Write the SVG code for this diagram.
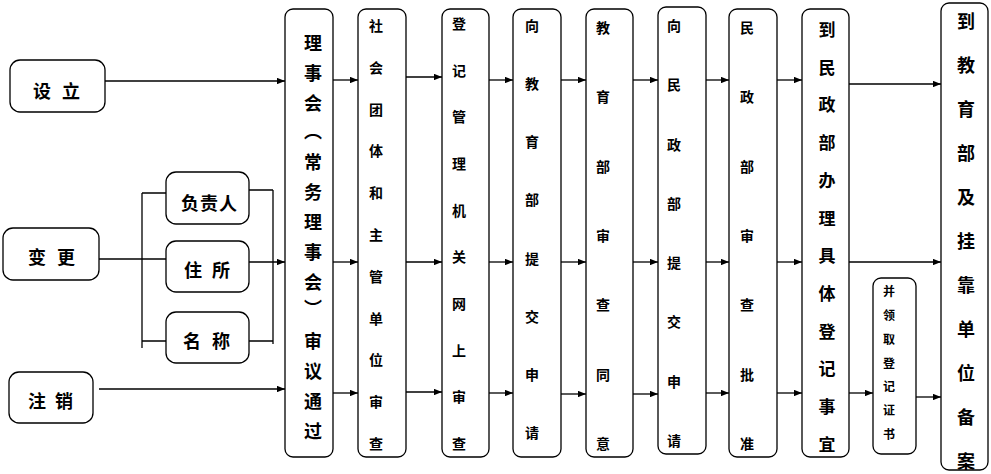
<svg xmlns="http://www.w3.org/2000/svg" width="991" height="474" viewBox="0 0 991 474">
<defs>
<marker id="ah" viewBox="0 0 10 8" refX="10" refY="4" markerWidth="8" markerHeight="6.4" markerUnits="userSpaceOnUse" orient="auto">
<path d="M0,0 L10,4 L0,8 Z" fill="#000"/>
</marker>
<style>
.box{fill:#fff;stroke:#000;stroke-width:1.3}
.ln{fill:none;stroke:#000;stroke-width:1.3}
.ar{fill:none;stroke:#000;stroke-width:1.3;marker-end:url(#ah)}
text{font-family:"Noto Sans CJK SC","Noto Sans CJK TC",sans-serif;font-weight:700;fill:#000;dominant-baseline:central}
.l{font-size:18px}
.b{font-size:18px;text-anchor:middle}
.s{font-size:14px;text-anchor:middle}
.t{font-size:12px;text-anchor:middle}
.v{font-size:18px;text-anchor:middle;writing-mode:vertical-rl}
</style>
</defs>
<rect width="991" height="474" fill="#fff"/>

<g id="connectors">
<path class="ar" d="M105,81 H285"/>
<path class="ln" d="M99,259 H166"/>
<path class="ln" d="M142,193 V348 M142,193 H166 M142,341 H166"/>
<path class="ln" d="M273,190 V344 M249,190 H273 M249,341 H273"/>
<path class="ar" d="M249,262 H285"/>
<path class="ar" d="M99,389 H285"/>
<path class="ar" d="M333,80 H358"/>
<path class="ar" d="M333,262 H358"/>
<path class="ar" d="M333,393 H358"/>
<path class="ar" d="M406,77 H442"/>
<path class="ar" d="M406,262 H442"/>
<path class="ar" d="M406,392 H442"/>
<path class="ar" d="M489,80 H513"/>
<path class="ar" d="M489,262 H513"/>
<path class="ar" d="M489,393 H513"/>
<path class="ar" d="M561,80 H586"/>
<path class="ar" d="M561,262 H586"/>
<path class="ar" d="M561,394 H586"/>
<path class="ar" d="M633,80 H658"/>
<path class="ar" d="M633,262 H658"/>
<path class="ar" d="M633,394 H658"/>
<path class="ar" d="M706,80 H729"/>
<path class="ar" d="M706,262 H729"/>
<path class="ar" d="M706,393 H729"/>
<path class="ar" d="M777,80 H802"/>
<path class="ar" d="M777,262 H802"/>
<path class="ar" d="M777,393 H802"/>
<path class="ar" d="M849,84 H941"/>
<path class="ar" d="M849,262 H941"/>
<path class="ar" d="M849,393 H873"/>
<path class="ar" d="M916,397 H941"/>
</g>

<g id="n-sheli">
<rect class="box" x="10" y="60" width="95" height="52" rx="10"/>
<text class="l" x="33 51 62" y="90">设 立</text>
</g>
<g id="n-biangeng">
<rect class="box" x="3" y="228" width="96" height="52" rx="10"/>
<text class="l" x="28 46 57" y="256">变 更</text>
</g>
<g id="n-zhuxiao">
<rect class="box" x="9" y="372" width="84" height="51" rx="10"/>
<text class="l" x="28 46 55" y="400">注 销</text>
</g>
<g id="n-fuzeren">
<rect class="box" x="166" y="172" width="83" height="52" rx="10"/>
<text class="l" x="181 200 219" y="202">负责人</text>
</g>
<g id="n-zhusuo">
<rect class="box" x="166" y="241" width="83" height="51" rx="10"/>
<text class="l" x="184 202 212" y="269">住 所</text>
</g>
<g id="n-mingcheng">
<rect class="box" x="166" y="312" width="83" height="51" rx="10"/>
<text class="l" x="183 201 212" y="340">名 称</text>
</g>

<g id="n-c1">
<rect class="box" x="285" y="9" width="48" height="448" rx="8"/>
<text class="b"><tspan x="313" y="42">理</tspan><tspan x="313" y="72">事</tspan><tspan x="313" y="102">会</tspan></text>
<text class="v" x="313" y="131">（</text>
<text class="b"><tspan x="313" y="161">常</tspan><tspan x="313" y="191">务</tspan><tspan x="313" y="221">理</tspan><tspan x="313" y="251">事</tspan><tspan x="313" y="281">会</tspan></text>
<text class="v" x="313" y="308">）</text>
<text class="b"><tspan x="313" y="340">审</tspan><tspan x="313" y="370">议</tspan><tspan x="313" y="400">通</tspan><tspan x="313" y="430">过</tspan></text>
</g>
<g id="n-c2">
<rect class="box" x="358" y="9" width="48" height="448" rx="8"/>
<text class="s"><tspan x="376" y="25">社</tspan><tspan x="376" y="67">会</tspan><tspan x="376" y="109">团</tspan><tspan x="376" y="150">体</tspan><tspan x="376" y="192">和</tspan><tspan x="376" y="234">主</tspan><tspan x="376" y="276">管</tspan><tspan x="376" y="318">单</tspan><tspan x="376" y="359">位</tspan><tspan x="376" y="401">审</tspan><tspan x="376" y="443">查</tspan></text>
</g>
<g id="n-c3">
<rect class="box" x="442" y="9" width="47" height="448" rx="8"/>
<text class="s"><tspan x="459" y="23">登</tspan><tspan x="459" y="70">记</tspan><tspan x="459" y="116">管</tspan><tspan x="459" y="163">理</tspan><tspan x="459" y="210">机</tspan><tspan x="459" y="256">关</tspan><tspan x="459" y="303">网</tspan><tspan x="459" y="350">上</tspan><tspan x="459" y="396">审</tspan><tspan x="459" y="443">查</tspan></text>
</g>
<g id="n-c4">
<rect class="box" x="513" y="9" width="48" height="448" rx="8"/>
<text class="s"><tspan x="532" y="25">向</tspan><tspan x="532" y="83">教</tspan><tspan x="532" y="141">育</tspan><tspan x="532" y="199">部</tspan><tspan x="532" y="258">提</tspan><tspan x="532" y="316">交</tspan><tspan x="532" y="374">申</tspan><tspan x="532" y="432">请</tspan></text>
</g>
<g id="n-c5">
<rect class="box" x="586" y="9" width="47" height="448" rx="8"/>
<text class="s"><tspan x="603" y="27">教</tspan><tspan x="603" y="96">育</tspan><tspan x="603" y="166">部</tspan><tspan x="603" y="235">审</tspan><tspan x="603" y="304">查</tspan><tspan x="603" y="374">同</tspan><tspan x="603" y="443">意</tspan></text>
</g>
<g id="n-c6">
<rect class="box" x="658" y="7" width="48" height="447" rx="8"/>
<text class="s"><tspan x="674" y="25">向</tspan><tspan x="674" y="84">民</tspan><tspan x="674" y="144">政</tspan><tspan x="674" y="203">部</tspan><tspan x="674" y="262">提</tspan><tspan x="674" y="321">交</tspan><tspan x="674" y="381">申</tspan><tspan x="674" y="440">请</tspan></text>
</g>
<g id="n-c7">
<rect class="box" x="729" y="9" width="48" height="448" rx="8"/>
<text class="s"><tspan x="747" y="27">民</tspan><tspan x="747" y="96">政</tspan><tspan x="747" y="166">部</tspan><tspan x="747" y="235">审</tspan><tspan x="747" y="304">查</tspan><tspan x="747" y="374">批</tspan><tspan x="747" y="443">准</tspan></text>
</g>
<g id="n-c8">
<rect class="box" x="802" y="9" width="47" height="448" rx="8"/>
<text class="b" style="font-size:17px"><tspan x="827" y="28">到</tspan><tspan x="827" y="66">民</tspan><tspan x="827" y="103">政</tspan><tspan x="827" y="141">部</tspan><tspan x="827" y="179">办</tspan><tspan x="827" y="217">理</tspan><tspan x="827" y="254">具</tspan><tspan x="827" y="292">体</tspan><tspan x="827" y="330">登</tspan><tspan x="827" y="367">记</tspan><tspan x="827" y="405">事</tspan><tspan x="827" y="443">宜</tspan></text>
</g>
<g id="n-c9">
<rect class="box" x="873" y="278" width="43" height="176" rx="8"/>
<text class="t"><tspan x="889" y="290">并</tspan><tspan x="889" y="314">领</tspan><tspan x="889" y="338">取</tspan><tspan x="889" y="362">登</tspan><tspan x="889" y="385">记</tspan><tspan x="889" y="409">证</tspan><tspan x="889" y="433">书</tspan></text>
</g>
<g id="n-c10">
<rect class="box" x="941" y="3" width="47" height="467" rx="8"/>
<text class="b"><tspan x="966" y="20">到</tspan><tspan x="966" y="64">教</tspan><tspan x="966" y="108">育</tspan><tspan x="966" y="152">部</tspan><tspan x="966" y="196">及</tspan><tspan x="966" y="240">挂</tspan><tspan x="966" y="284">靠</tspan><tspan x="966" y="328">单</tspan><tspan x="966" y="372">位</tspan><tspan x="966" y="416">备</tspan><tspan x="966" y="460">案</tspan></text>
</g>
</svg>
